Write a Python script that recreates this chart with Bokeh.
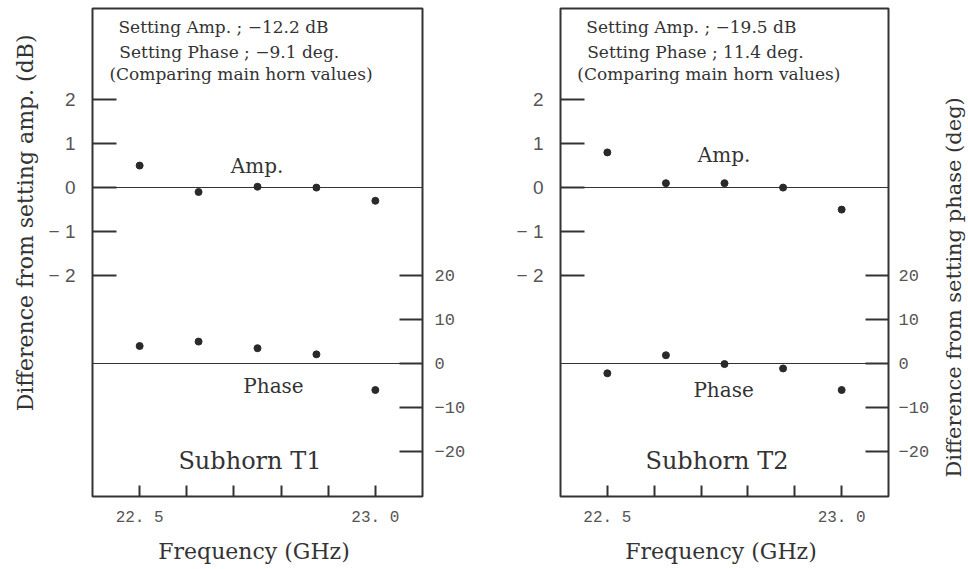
import math
from bokeh.plotting import figure
from bokeh.models import Range1d, LinearAxis, FixedTicker, CustomJSTickFormatter, Label, Title
from bokeh.layouts import row
from bokeh.embed import file_html
from bokeh.resources import INLINE

# ---- data ----
freq = [22.5, 22.625, 22.75, 22.875, 23.0]
amp_t1 = [0.5, -0.1, 0.02, 0.0, -0.3]
phase_t1 = [4.0, 5.0, 3.5, 2.1, -6.0]
amp_t2 = [0.8, 0.1, 0.1, 0.0, -0.5]
phase_t2 = [-2.2, 1.9, -0.1, -1.1, -6.0]

amp_ticks = [-2, -1, 0, 1, 2]
phase_ticks = [-20, -10, 0, 10, 20]
freq_major = [22.5, 23.0]
freq_minor = [22.6, 22.7, 22.8, 22.9]

names = ["Subhorn  T1", "Subhorn  T2"]
setting_amp = ["\u221212.2", "\u221219.5"]
setting_phase = ["\u22129.1", "11.4"]

INK = "#333333"
TICKC = "#555555"
SERIF = "DejaVu Serif"
MONO = "Liberation Mono"


def make_panel(i, amp, phase):
    first = i == 0
    p = figure(
        frame_width=330 if first else 328,
        frame_height=488,
        min_border_left=92 if first else 70,
        min_border_right=68 if first else 50,
        min_border_top=8,
        min_border_bottom=65,
        x_range=Range1d(22.4, 23.1),
        y_range=Range1d(-7.02, 4.07),
        output_backend="svg",
        toolbar_location=None,
        background_fill_color="white",
        border_fill_color="white",
    )
    p.extra_y_ranges = {"phase": Range1d(-30.2, 80.7)}
    p.grid.visible = False
    p.outline_line_color = INK
    p.outline_line_width = 2

    # x axis
    xa = p.xaxis[0]
    xa.ticker = FixedTicker(ticks=freq_major, minor_ticks=freq_minor)
    xa.formatter = CustomJSTickFormatter(code="return tick.toFixed(1).replace('.', '. ');")
    xa.major_tick_in = 11
    xa.major_tick_out = 0
    xa.minor_tick_in = 11
    xa.minor_tick_out = 0
    xa.major_tick_line_width = 2
    xa.minor_tick_line_width = 2
    xa.major_tick_line_color = INK
    xa.minor_tick_line_color = INK
    xa.axis_line_color = None
    xa.major_label_text_font = MONO
    xa.major_label_text_font_size = "16px"
    xa.major_label_text_color = TICKC
    xa.major_label_standoff = 12
    xa.axis_label = "Frequency  (GHz)"
    xa.axis_label_text_font = SERIF
    xa.axis_label_text_font_size = "22px"
    xa.axis_label_text_font_style = "normal"
    xa.axis_label_text_color = INK
    xa.axis_label_standoff = 9

    # left amp axis
    ya = p.yaxis[0]
    ya.ticker = FixedTicker(ticks=amp_ticks, minor_ticks=[])
    ya.formatter = CustomJSTickFormatter(
        code="return tick < 0 ? '\u2212 ' + Math.abs(tick) : String(tick);")
    ya.major_tick_in = 24
    ya.major_tick_out = 0
    ya.minor_tick_in = 0
    ya.minor_tick_out = 0
    ya.major_tick_line_width = 2
    ya.major_tick_line_color = INK
    ya.axis_line_color = None
    ya.major_label_text_font = "Liberation Sans"
    ya.major_label_text_font_size = "19px"
    ya.major_label_text_color = TICKC
    ya.major_label_standoff = 17

    # right phase axis
    ra = LinearAxis(y_range_name="phase")
    ra.ticker = FixedTicker(ticks=phase_ticks, minor_ticks=[])
    ra.major_tick_in = 23
    ra.major_tick_out = 0
    ra.minor_tick_in = 0
    ra.minor_tick_out = 0
    ra.major_tick_line_width = 2
    ra.major_tick_line_color = INK
    ra.axis_line_color = None
    ra.major_label_text_font = MONO
    ra.major_label_text_font_size = "17px"
    ra.major_label_text_color = TICKC
    ra.major_label_standoff = 12 if first else 10
    p.add_layout(ra, "right")

    if first:
        p.add_layout(Title(text="Difference from  setting amp. (dB)", align="right",
                           offset=19, standoff=16, text_font=SERIF, text_font_size="22px",
                           text_font_style="normal", text_color=INK), "left")

    # zero lines
    p.hspan(y=[0], line_color=INK, line_width=1.2)
    p.hspan(y=[0], y_range_name="phase", line_color=INK, line_width=1.2)

    # data points
    p.scatter(freq, amp, size=7, color="#2a2a2a")
    p.scatter(freq, phase, y_range_name="phase", size=7, color="#2a2a2a")

    # annotations
    def lab(x, y, text, size, align="left"):
        p.add_layout(Label(x=x, y=y, text=text, text_font=SERIF,
                           text_font_size=size, text_color=INK,
                           text_align=align, text_baseline="middle"))

    x0 = 22.455
    lab(x0, 3.64, "Setting Amp. ; %s dB" % setting_amp[i], "17px")
    lab(x0 + 0.002, 3.08, "Setting Phase ; %s deg." % setting_phase[i], "17px")
    lab(x0 - 0.019, 2.58, "(Comparing main horn values)", "17px")
    lab(22.749, 0.5 if first else 0.73, "Amp.", "20px", "center")
    lab(22.784 if first else 22.748, -4.5 if first else -4.6, "Phase", "20px", "center")
    lab(22.742, -6.22, names[i], "24px", "center")
    return p


p1 = make_panel(0, amp_t1, phase_t1)
p2 = make_panel(1, amp_t2, phase_t2)

# narrow strip carrying the right-hand axis title (reads bottom-to-top)
p3 = figure(frame_width=2, frame_height=488, min_border_left=0, min_border_right=0,
            min_border_top=8, min_border_bottom=65,
            x_axis_type=None, y_axis_type=None,
            output_backend="svg", toolbar_location=None,
            background_fill_color=None, border_fill_color="white")
p3.outline_line_color = None
p3.grid.visible = False
p3.add_layout(Title(text="Difference from  setting phase  (deg)", align="left",
                    offset=19, standoff=4, vertical_align="middle",
                    text_font=SERIF, text_font_size="21px",
                    text_font_style="normal", text_color=INK), "left")

layout = row(p1, p2, p3)

open("out.html", "w").write(file_html(layout, INLINE))
